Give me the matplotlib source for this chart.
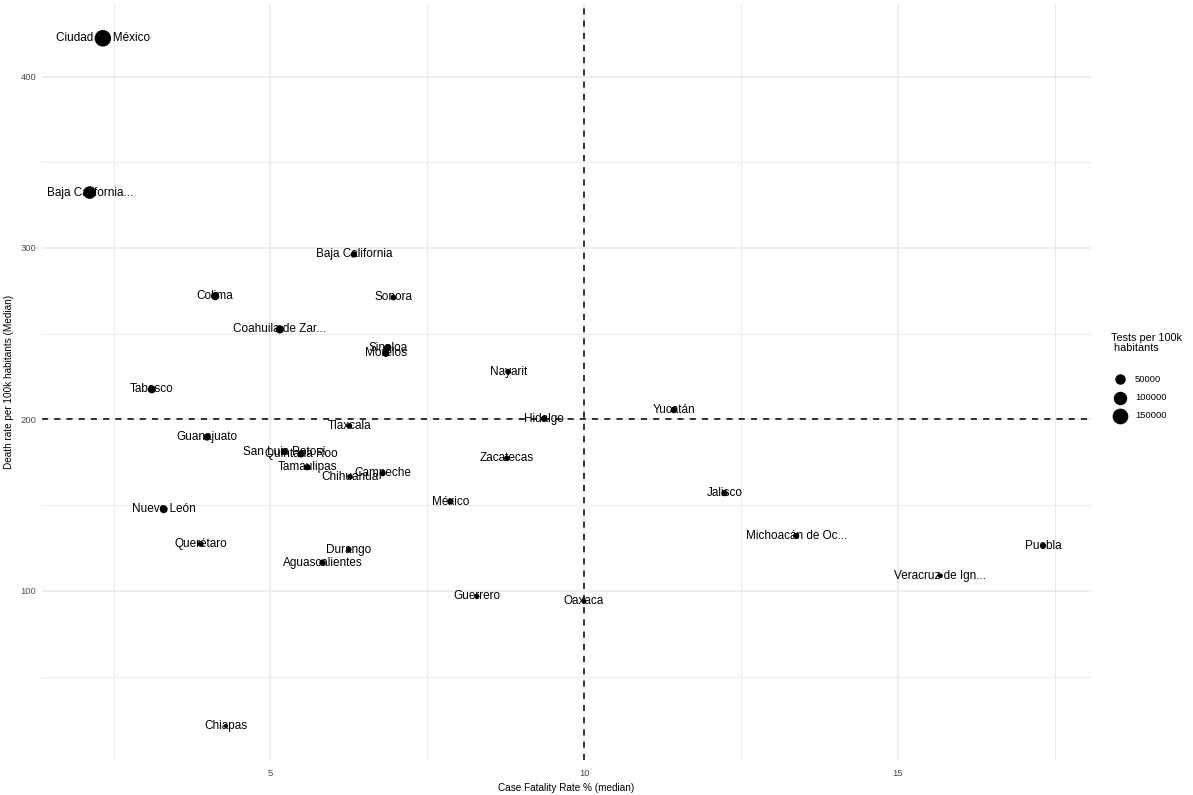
import matplotlib.pyplot as plt
import numpy as np

plt.rcParams['font.family'] = ['Liberation Sans', 'DejaVu Sans']

states = ['Ciudad de México', 'Baja California...', 'Baja California', 'Colima',
          'Sonora', 'Coahuila de Zar...', 'Sinaloa', 'Morelos', 'Nayarit',
          'Tabasco', 'Yucatán', 'Hidalgo', 'Tlaxcala', 'Guanajuato',
          'San Luis Potosí', 'Quintana Roo', 'Zacatecas', 'Tamaulipas',
          'Campeche', 'Chihuahua', 'México', 'Jalisco', 'Nuevo León',
          'Michoacán de Oc...', 'Querétaro', 'Puebla', 'Durango',
          'Aguascalientes', 'Veracruz de Ign...', 'Guerrero', 'Oaxaca', 'Chiapas']
cfr = [2.33, 2.12, 6.33, 4.12, 6.96, 5.15, 6.87, 6.84, 8.79, 3.11, 11.43,
       9.36, 6.26, 3.99, 5.22, 5.49, 8.77, 5.59, 6.79, 6.27, 7.87, 12.24,
       3.30, 13.38, 3.89, 17.32, 6.25, 5.83, 15.68, 8.29, 10.0, 4.29]
death_rate = [422.3, 332.3, 296.2, 271.9, 271.1, 252.5, 241.8, 238.5, 227.8,
              217.5, 205.5, 200.4, 196.2, 189.7, 181.2, 179.9, 177.3, 172.1,
              168.6, 166.6, 152.1, 157.0, 147.6, 132.1, 127.4, 126.3, 124.0,
              116.4, 108.8, 96.7, 93.8, 21.2]
tests = [170000, 85000, 9000, 24000, 6000, 24000, 17000, 14000, 6000, 21000,
         10000, 8000, 5000, 15000, 12000, 15000, 5000, 9000, 8000, 5000, 9000,
         9000, 21000, 8000, 7000, 5000, 5000, 9000, 2500, 4000, 2000, 500]
legend_breaks = [50000, 100000, 150000]

cfr = np.array(cfr)
death_rate = np.array(death_rate)
tests = np.array(tests)
vmax = tests.max()


def size_of(v):
    # diameter in pixels, area grows with the value
    d_px = 3.3 + 13.2 * np.sqrt(np.asarray(v) / vmax)
    return (d_px * 0.72) ** 2


fig = plt.figure(figsize=(11.93, 7.95), dpi=100)
ax = fig.add_axes([42 / 1193, 1 - 760.3 / 795, 1049 / 1193, 756.4 / 795])

pad_x = 0.05 * (cfr.max() - cfr.min())
pad_y = 0.05 * (death_rate.max() - death_rate.min())
ax.set_xlim(cfr.min() - pad_x, cfr.max() + pad_x)
ax.set_ylim(death_rate.min() - pad_y, death_rate.max() + pad_y)

ax.set_xticks([5, 10, 15])
ax.set_yticks([100, 200, 300, 400])
ax.set_xticks([2.5, 7.5, 12.5, 17.5], minor=True)
ax.set_yticks([50, 150, 250, 350], minor=True)
ax.grid(True, which='major', color='#EBEBEB', lw=1.2)
ax.grid(True, which='minor', color='#EBEBEB', lw=0.7)
ax.set_axisbelow(True)
for s in ax.spines.values():
    s.set_visible(False)
ax.tick_params(which='both', length=0, labelsize=6.8, labelcolor='#4D4D4D')
ax.tick_params(axis='x', pad=6)
ax.tick_params(axis='y', pad=4)

ax.axhline(200, color='black', lw=1.1, ls=(0, (4, 4)), zorder=1)
ax.axvline(10, color='black', lw=1.1, ls=(0, (4, 4)), zorder=1)

for name, x, y in zip(states, cfr, death_rate):
    ax.text(x, y, name, ha='center', va='center', fontsize=8.5, zorder=2)
ax.scatter(cfr, death_rate, s=size_of(tests), color='black', lw=0, zorder=3)

ax.set_xlabel('Case Fatality Rate % (median)', fontsize=7.2, labelpad=4)
ax.set_ylabel('Death rate per 100k habitants (Median)', fontsize=7.2, labelpad=5)

# legend
fig.text(1111 / 1193, 1 - 343 / 795, 'Tests per 100k\n habitants', fontsize=7.8,
         ha='left', va='center', linespacing=1.0)
for b, py in zip(legend_breaks, [379, 398, 416]):
    ax.scatter([1120 / 1193], [1 - py / 795], s=size_of(b), color='black', lw=0,
               transform=fig.transFigure, clip_on=False)
    fig.text(1135 / 1193, 1 - py / 795, str(b), fontsize=6.8, ha='left', va='center')

fig.savefig('out.png', dpi=100, facecolor='white')
